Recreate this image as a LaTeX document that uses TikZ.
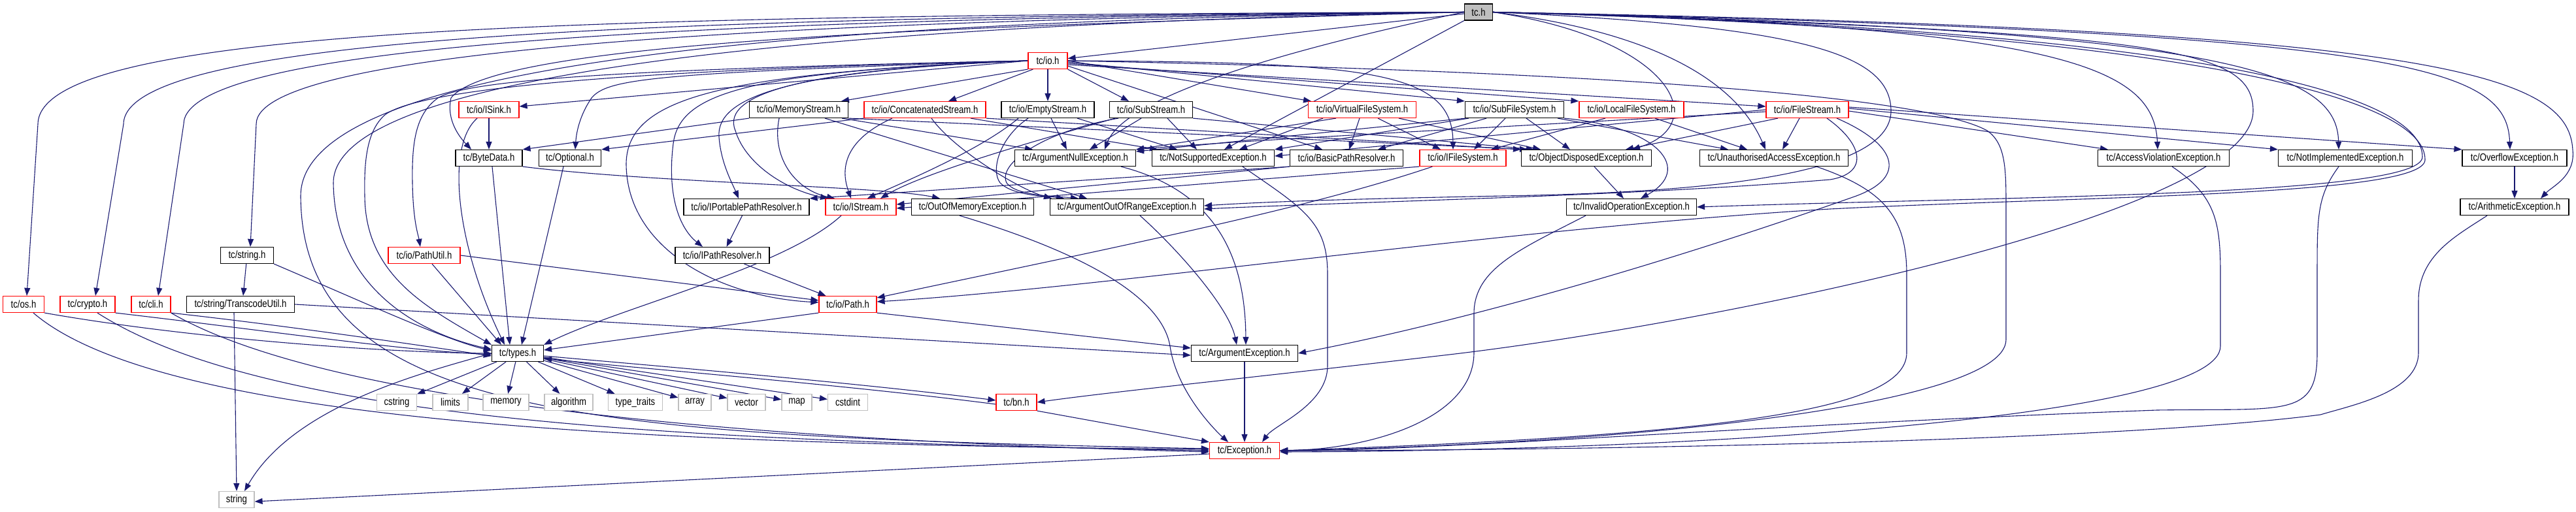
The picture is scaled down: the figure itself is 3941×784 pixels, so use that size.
\documentclass[tikz,border=0pt]{standalone}
\usepackage{fontspec}
\setmainfont{Liberation Sans}[FakeStretch=0.82]
\usetikzlibrary{arrows.meta,backgrounds}

\definecolor{edgeblue}{HTML}{191970}
\definecolor{hdrred}{HTML}{FF0000}
\definecolor{sysgray}{HTML}{BFBFBF}

\tikzset{
  hdr/.style={draw=black, line width=1.2pt, fill=white, minimum height=25, inner sep=1pt, font=\fontsize{16}{18}\selectfont},
  hdrred/.style={hdr, draw=hdrred},
  hdrsys/.style={hdr, draw=sysgray},
  hdrroot/.style={hdr, fill=sysgray},
  dep/.style={draw=edgeblue, line width=1.1pt, -{Triangle[length=12pt,width=9pt]}}
}

\begin{document}
\begin{tikzpicture}[x=1pt,y=-1pt]
\useasboundingbox (0,0) rectangle (3941,784);

% root
\node[hdrroot, minimum width=43] (tc) at (2262,18.5) {tc.h};
\node[hdrred, minimum width=60] (io) at (1603,93) {tc/io.h};
% io row
\node[hdrred, minimum width=92] (isink) at (748,168) {tc/io/ISink.h};
\node[hdr, minimum width=151] (memstream) at (1222,168) {tc/io/MemoryStream.h};
\node[hdrred, minimum width=186] (concat) at (1415,168) {tc/io/ConcatenatedStream.h};
\node[hdr, minimum width=142] (empty) at (1603,168) {tc/io/EmptyStream.h};
\node[hdr, minimum width=127] (substream) at (1761,168) {tc/io/SubStream.h};
\node[hdrred, minimum width=165] (vfs) at (2084,168) {tc/io/VirtualFileSystem.h};
\node[hdr, minimum width=151] (subfs) at (2317,168) {tc/io/SubFileSystem.h};
\node[hdrred, minimum width=160] (localfs) at (2496,168) {tc/io/LocalFileSystem.h};
\node[hdrred, minimum width=126] (filestream) at (2765,168) {tc/io/FileStream.h};
% exceptions row
\node[hdr, minimum width=102] (bytedata) at (748,242) {tc/ByteData.h};
\node[hdr, minimum width=95] (optional) at (872,242) {tc/Optional.h};
\node[hdr, minimum width=185] (argnull) at (1645,242) {tc/ArgumentNullException.h};
\node[hdr, minimum width=187] (notsupp) at (1856,242) {tc/NotSupportedException.h};
\node[hdr, minimum width=173] (basicpath) at (2060,242) {tc/io/BasicPathResolver.h};
\node[hdrred, minimum width=132] (ifs) at (2238,242) {tc/io/IFileSystem.h};
\node[hdr, minimum width=199] (objdisp) at (2427,242) {tc/ObjectDisposedException.h};
\node[hdr, minimum width=227] (unauth) at (2714,242) {tc/UnauthorisedAccessException.h};
\node[hdr, minimum width=201] (accessviol) at (3310,242) {tc/AccessViolationException.h};
\node[hdr, minimum width=205] (notimpl) at (3588,242) {tc/NotImplementedException.h};
\node[hdr, minimum width=160] (overflow) at (3847,242) {tc/OverflowException.h};
\node[hdr, minimum width=192] (iportable) at (1142,317) {tc/io/IPortablePathResolver.h};
\node[hdrred, minimum width=108] (istream) at (1317,317) {tc/io/IStream.h};
\node[hdr, minimum width=187] (outofmem) at (1488,317) {tc/OutOfMemoryException.h};
\node[hdr, minimum width=235] (argoor) at (1724,317) {tc/ArgumentOutOfRangeException.h};
\node[hdr, minimum width=199] (invop) at (2496,317) {tc/InvalidOperationException.h};
\node[hdr, minimum width=166] (arith) at (3847,317) {tc/ArithmeticException.h};
% lower part
\node[hdr, minimum width=81] (string) at (378,391) {tc/string.h};
\node[hdrred, minimum width=110] (pathutil) at (649,391) {tc/io/PathUtil.h};
\node[hdr, minimum width=144] (ipathres) at (1105,391) {tc/io/IPathResolver.h};
\node[hdrred, minimum width=63] (os) at (36,466) {tc/os.h};
\node[hdrred, minimum width=84] (crypto) at (134,466) {tc/crypto.h};
\node[hdrred, minimum width=60] (cli) at (231,466) {tc/cli.h};
\node[hdr, minimum width=165] (transcode) at (368,466) {tc/string/TranscodeUtil.h};
\node[hdrred, minimum width=88] (path) at (1297,466) {tc/io/Path.h};
\node[hdr, minimum width=79] (types) at (792,541) {tc/types.h};
\node[hdr, minimum width=163] (argexc) at (1904,541) {tc/ArgumentException.h};
% system headers
\node[hdrsys, minimum width=61] (cstring) at (607,616) {cstring};
\node[hdrsys, minimum width=54] (limits) at (689,616) {limits};
\node[hdrsys, minimum width=70] (memory) at (774,616) {memory};
\node[hdrsys, minimum width=74] (algorithm) at (870,616) {algorithm};
\node[hdrsys, minimum width=83] (typetraits) at (972,616) {type\_traits};
\node[hdrsys, minimum width=50] (array) at (1063,616) {array};
\node[hdrsys, minimum width=58] (vector) at (1142,616) {vector};
\node[hdrsys, minimum width=46] (map) at (1219,616) {map};
\node[hdrsys, minimum width=61] (cstdint) at (1297,616) {cstdint};
\node[hdrred, minimum width=62] (bn) at (1555,616) {tc/bn.h};
\node[hdrred, minimum width=107] (exception) at (1904,690) {tc/Exception.h};
\node[hdrsys, minimum width=54] (sysstring) at (362,765) {string};

\begin{pgfonlayer}{background}
% tc.h, to the left
\draw[dep] (tc) -- (io);
\draw[dep] (tc.west) .. controls (900,24) and (60,40) .. (58,190) -- ([xshift=5]os.north);
\draw[dep] (tc.west) .. controls (1000,26) and (190,55) .. (189,190) -- ([xshift=12]crypto.north);
\draw[dep] (tc.west) .. controls (1100,28) and (282,65) .. (281,190) -- ([xshift=11]cli.north);
\draw[dep] (tc.west) .. controls (1200,30) and (392,75) .. (392,190) -- ([xshift=5]string.north);
\draw[dep] (tc.west) .. controls (1300,32) and (460,85) .. (460,300) .. controls (462,640) and (900,668) .. ([yshift=3]exception.west);
\draw[dep] (tc.west) .. controls (1400,36) and (510,95) .. (510,280) .. controls (512,440) and (640,510) .. ([yshift=6]types.west);
\draw[dep] (tc.west) .. controls (1500,40) and (760,60) .. (690,150) .. controls (682,185) and (705,212) .. ([xshift=-27]bytedata.north);
\draw[dep] (tc.west) .. controls (1950,80) and (1720,150) .. ([xshift=45]argnull.north);
\draw[dep] (tc.south west) -- ([xshift=17]notsupp.north);
% tc.h, to the right
\draw[dep] (tc.east) .. controls (2560,60) and (2620,190) .. ([xshift=70]objdisp.north);
\draw[dep] (tc.east) .. controls (2500,45) and (2650,110) .. ([xshift=-13]unauth.north);
\draw[dep] (tc.east) .. controls (3150,40) and (3295,100) .. ([xshift=-9]accessviol.north);
\draw[dep] (tc.east) .. controls (3420,45) and (3575,110) .. ([xshift=-10]notimpl.north);
\draw[dep] (tc.east) .. controls (3680,50) and (3835,100) .. ([xshift=-7]overflow.north);
\draw[dep] (tc.east) .. controls (3720,45) and (3930,110) .. (3936,230) .. controls (3940,270) and (3905,285) .. ([xshift=40]arith.north);
\draw[dep] (tc.east) .. controls (3350,45) and (3705,140) .. (3706,240) .. controls (3707,300) and (3100,300) .. (invop.east);
\draw[dep] (tc.east) .. controls (3300,50) and (3447,70) .. (3447,170) .. controls (3447,330) and (2600,500) .. (2200,545) .. controls (1900,580) and (1700,600) .. (bn.east);
\draw[dep] (tc.east) .. controls (2750,40) and (2893,80) .. (2893,170) .. controls (2893,270) and (2600,295) .. (2300,300) .. controls (2100,304) and (1950,308) .. ([yshift=2]argoor.east);
\draw[dep] (tc.east) .. controls (3350,48) and (3712,150) .. (3710,245) .. controls (3708,300) and (3200,300) .. (2800,320) .. controls (2300,350) and (1700,440) .. ([yshift=4]path.east);

% tc/io.h
\draw[dep] (io.west) -- ([yshift=5]isink.east);
\draw[dep] (io.south west) -- ([xshift=65]memstream.north);
\draw[dep] ([xshift=8]io.south west) -- ([xshift=36]concat.north);
\draw[dep] (io) -- (empty);
\draw[dep] (io.south east) -- ([xshift=-34]substream.north);
\draw[dep] (io.east) -- ([xshift=-78]vfs.north);
\draw[dep] ([yshift=-2]io.east) -- (subfs.north west);
\draw[dep] ([yshift=-4]io.east) -- (localfs.north west);
\draw[dep] ([yshift=-6]io.east) -- ([yshift=5]filestream.west);
\draw[dep] ([yshift=-8]io.east) -- ([xshift=-37]basicpath.north);
\draw[dep] (io.east) .. controls (2100,95) and (2222,110) .. ([xshift=-15]ifs.north);
\draw[dep] (io.west) .. controls (1250,105) and (1100,140) .. (1125,200) .. controls (1140,250) and (1200,290) .. ([xshift=-50]istream.north);
\draw[dep] (io.west) .. controls (1200,108) and (1095,150) .. (1100,210) .. controls (1103,250) and (1120,280) .. ([xshift=-12]iportable.north);
\draw[dep] (io.west) .. controls (1150,110) and (1040,140) .. (1030,220) .. controls (1020,300) and (1040,350) .. ([xshift=-30]ipathres.north);
\draw[dep] (io.west) .. controls (1100,112) and (960,150) .. (958,250) .. controls (958,380) and (1100,455) .. ([yshift=3]path.west);
\draw[dep] (io.west) .. controls (1000,105) and (720,120) .. (670,150) .. controls (635,175) and (630,220) .. (631,280) .. controls (632,340) and (640,360) .. ([xshift=-6]pathutil.north);
\draw[dep] (io.west) .. controls (900,108) and (640,140) .. (590,175) .. controls (560,200) and (557,250) .. (558,300) .. controls (559,420) and (650,470) .. (types.north west);
\draw[dep] (io.west) .. controls (1000,112) and (930,120) .. (905,150) .. controls (888,175) and (882,200) .. ([xshift=8]optional.north);

% streams
\draw[dep] (isink) -- (bytedata);
\draw[dep] ([xshift=-18]isink.south) .. controls (680,225) and (700,380) .. ([xshift=-20]types.north);
\draw[dep] (memstream.south west) -- (bytedata.north east);
\draw[dep] ([xshift=-30]memstream.south) .. controls (1180,240) and (1215,290) .. ([xshift=-40]istream.north);
\draw[dep] ([xshift=40]memstream.south) -- ([xshift=-61]argoor.north);
\draw[dep] ([xshift=-10]memstream.south east) -- ([xshift=-65]argnull.north);
\draw[dep] (memstream.south east) -- ([xshift=-90]objdisp.north);
\draw[dep] (concat.south west) -- (optional.north east);
\draw[dep] ([xshift=-50]concat.south) .. controls (1280,220) and (1290,270) .. ([xshift=-15]istream.north);
\draw[dep] ([xshift=10]concat.south) .. controls (1460,230) and (1560,290) .. ([xshift=-115]argoor.north);
\draw[dep] ([xshift=70]concat.south) -- ([xshift=-85]notsupp.north);
\draw[dep] (concat.south east) -- (objdisp.north west);
\draw[dep] ([xshift=-45]empty.south) .. controls (1500,230) and (1380,280) .. ([xshift=10]istream.north);
\draw[dep] ([xshift=5]empty.south) -- ([xshift=-13]argnull.north);
\draw[dep] ([xshift=45]empty.south) -- ([xshift=-55]notsupp.north);
\draw[dep] ([xshift=-30]empty.south) .. controls (1530,210) and (1515,260) .. (1530,280) .. controls (1550,300) and (1600,300) .. ([xshift=-96]argoor.north);
\draw[dep] ([xshift=-55]substream.south) .. controls (1640,200) and (1420,260) .. ([xshift=30]istream.north);
\draw[dep] ([xshift=-50]substream.south) .. controls (1600,200) and (1525,250) .. (1540,280) .. controls (1555,300) and (1610,300) .. ([xshift=-74]argoor.north);
\draw[dep] ([xshift=-15]substream.south) -- ([xshift=22]argnull.north);
\draw[dep] ([xshift=25]substream.south) -- ([xshift=-25]notsupp.north);
\draw[dep] (substream.south east) -- ([xshift=-80]objdisp.north);

% file systems
\draw[dep] ([xshift=-4]vfs.south) -- ([xshift=4]basicpath.north);
\draw[dep] ([xshift=24]vfs.south) -- ([xshift=-34]ifs.north);
\draw[dep] ([xshift=56]vfs.south) -- ([xshift=-70]objdisp.north);
\draw[dep] ([xshift=-40]vfs.south) -- (argnull.north east);
\draw[dep] ([xshift=-60]vfs.south) -- ([xshift=40]notsupp.north);
\draw[dep] ([xshift=-43]subfs.south) -- ([xshift=48]basicpath.north);
\draw[dep] ([xshift=-14]subfs.south) -- ([xshift=17]ifs.north);
\draw[dep] ([xshift=18]subfs.south) -- ([xshift=-25]objdisp.north);
\draw[dep] ([xshift=66]subfs.south) -- ([xshift=-70]unauth.north);
\draw[dep] (subfs.south east) .. controls (2540,195) and (2590,260) .. ([xshift=14]invop.north);
\draw[dep] ([xshift=-75]subfs.south) -- ([yshift=10]argnull.east);
\draw[dep] ([xshift=-70]subfs.south) -- (notsupp.north east);
\draw[dep] ([xshift=-40]localfs.south) -- ([xshift=43]ifs.north);
\draw[dep] ([xshift=36]localfs.south) -- ([xshift=-41]unauth.north);
\draw[dep] ([xshift=-45]filestream.south) -- ([xshift=60]objdisp.north);
\draw[dep] ([xshift=-12]filestream.south) -- ([xshift=13]unauth.north);
\draw[dep] (filestream.west) -- ([yshift=3]notsupp.east);
\draw[dep] ([yshift=-3]filestream.west) .. controls (2200,200) and (1900,215) .. (argnull.north east);
\draw[dep] ([yshift=-2]filestream.east) -- ([xshift=-85]accessviol.north);
\draw[dep] ([yshift=2]filestream.east) -- (notimpl.north west);
\draw[dep] ([yshift=4]filestream.east) -- (overflow.north west);
\draw[dep] ([xshift=30]filestream.south) .. controls (2850,220) and (2860,265) .. (2800,275) .. controls (2500,300) and (2100,308) .. ([yshift=-3]argoor.east);
\draw[dep] ([xshift=45]filestream.south) .. controls (2900,220) and (2920,270) .. (2840,300) .. controls (2500,420) and (2200,500) .. (argexc.east);
\draw[dep] (io.east) .. controls (2500,110) and (2950,150) .. (3040,200) .. controls (3069,220) and (3069,260) .. (3069,320) -- (3069,520) .. controls (3069,620) and (2500,680) .. (exception.east);
\draw[dep] (basicpath.south west) -- (iportable.north east);
\draw[dep] (basicpath.south west) -- ([yshift=4]istream.east);
\draw[dep] (ifs.south west) -- ([yshift=-2]istream.east);
\draw[dep] ([xshift=20]ifs.south west) .. controls (2000,320) and (1700,380) .. ([yshift=10]path.east);

% exceptions
\draw[dep] (objdisp) -- (invop);
\draw[dep] (overflow) -- (arith);
\draw[dep] (argexc) -- (exception);
\draw[dep] ([xshift=70]argnull.south) .. controls (1850,290) and (1905,380) .. ([xshift=2]argexc.north);
\draw[dep] ([xshift=20]argoor.south) .. controls (1800,380) and (1880,470) .. ([xshift=-12]argexc.north);
\draw[dep] ([xshift=-20]outofmem.south) .. controls (1700,400) and (1780,470) .. (1790,530) .. controls (1800,600) and (1860,660) .. ([xshift=-25]exception.north);
\draw[dep] ([xshift=45]notsupp.south) .. controls (1995,320) and (2031,340) .. (2031,420) -- (2031,560) .. controls (2031,620) and (1950,650) .. ([xshift=27]exception.north);
\draw[dep] ([xshift=-70]invop.south) .. controls (2330,380) and (2255,410) .. (2255,480) -- (2255,540) .. controls (2255,640) and (2100,688) .. (exception.east);
\draw[dep] ([xshift=65]unauth.south) .. controls (2880,290) and (2917,330) .. (2917,420) -- (2917,540) .. controls (2917,620) and (2700,665) .. (exception.east);
\draw[dep] ([xshift=13]accessviol.south) .. controls (3390,300) and (3397,340) .. (3397,420) -- (3397,530) .. controls (3397,640) and (2600,690) .. ([yshift=-2]exception.east);
\draw[dep] ([xshift=-10]notimpl.south) .. controls (3545,300) and (3545,330) .. (3545,420) -- (3545,540) .. controls (3545,640) and (3500,625) .. (3300,628) .. controls (2700,650) and (2200,690) .. (exception.east);
\draw[dep] ([xshift=-42]arith.south) .. controls (3760,360) and (3700,390) .. (3700,460) -- (3700,540) .. controls (3700,600) and (3600,620) .. (3550,635) .. controls (3200,680) and (2300,690) .. (exception.east);

% paths and types
\draw[dep] ([xshift=5]bytedata.south) -- ([xshift=-12]types.north);
\draw[dep] (bytedata.south east) .. controls (1000,280) and (1350,285) .. ([xshift=-50]outofmem.north);
\draw[dep] ([xshift=-10]optional.south) -- ([xshift=6]types.north);
\draw[dep] (iportable) -- (ipathres);
\draw[dep] (ipathres) -- (path);
\draw[dep] ([xshift=-30]istream.south) .. controls (1200,410) and (950,470) .. (types.north east);
\draw[dep] ([xshift=12]pathutil.south) -- ([xshift=-25]types.north);
\draw[dep] (pathutil.east) -- ([yshift=6]path.west);
\draw[dep] (path.south west) -- ([yshift=5]types.east);
\draw[dep] (path.south east) -- ([yshift=8]argexc.west);
\draw[dep] (string) -- ([xshift=4]transcode.north);
\draw[dep] (string.south east) .. controls (550,460) and (680,520) .. ([yshift=4]types.west);
\draw[dep] ([xshift=-10]transcode.south) -- (sysstring.north);
\draw[dep] (transcode.east) -- ([yshift=-3]argexc.west);
\draw[dep] (os.south east) .. controls (300,520) and (600,540) .. ([yshift=0]types.west);
\draw[dep] (crypto.south east) .. controls (400,505) and (600,535) .. ([yshift=-2]types.west);
\draw[dep] (cli.south east) .. controls (450,500) and (650,530) .. ([yshift=-4]types.west);
\draw[dep] ([xshift=15]os.south) .. controls (250,650) and (1000,680) .. ([yshift=2]exception.west);
\draw[dep] ([xshift=15]crypto.south) .. controls (400,640) and (1000,675) .. ([yshift=0]exception.west);
\draw[dep] (cli.south east) .. controls (470,600) and (1000,670) .. ([yshift=-2]exception.west);

% system headers
\foreach \sys in {cstring,limits,memory,algorithm,typetraits,array,vector,map,cstdint}
  \draw[dep] (types) -- (\sys);
\draw[dep] (types.west) .. controls (650,570) and (450,620) .. ([xshift=12]sysstring.north);
\draw[dep] ([yshift=-4]types.east) .. controls (1000,560) and (1300,585) .. ([yshift=3]bn.west);
\draw[dep] ([yshift=-3]bn.west) .. controls (1300,590) and (1000,566) .. ([yshift=-8]types.east);
\draw[dep] (bn.south east) -- (exception.north west);
\draw[dep] ([yshift=-5]exception.west) -- ([yshift=-3]sysstring.east);
\end{pgfonlayer}

\end{tikzpicture}
\end{document}
